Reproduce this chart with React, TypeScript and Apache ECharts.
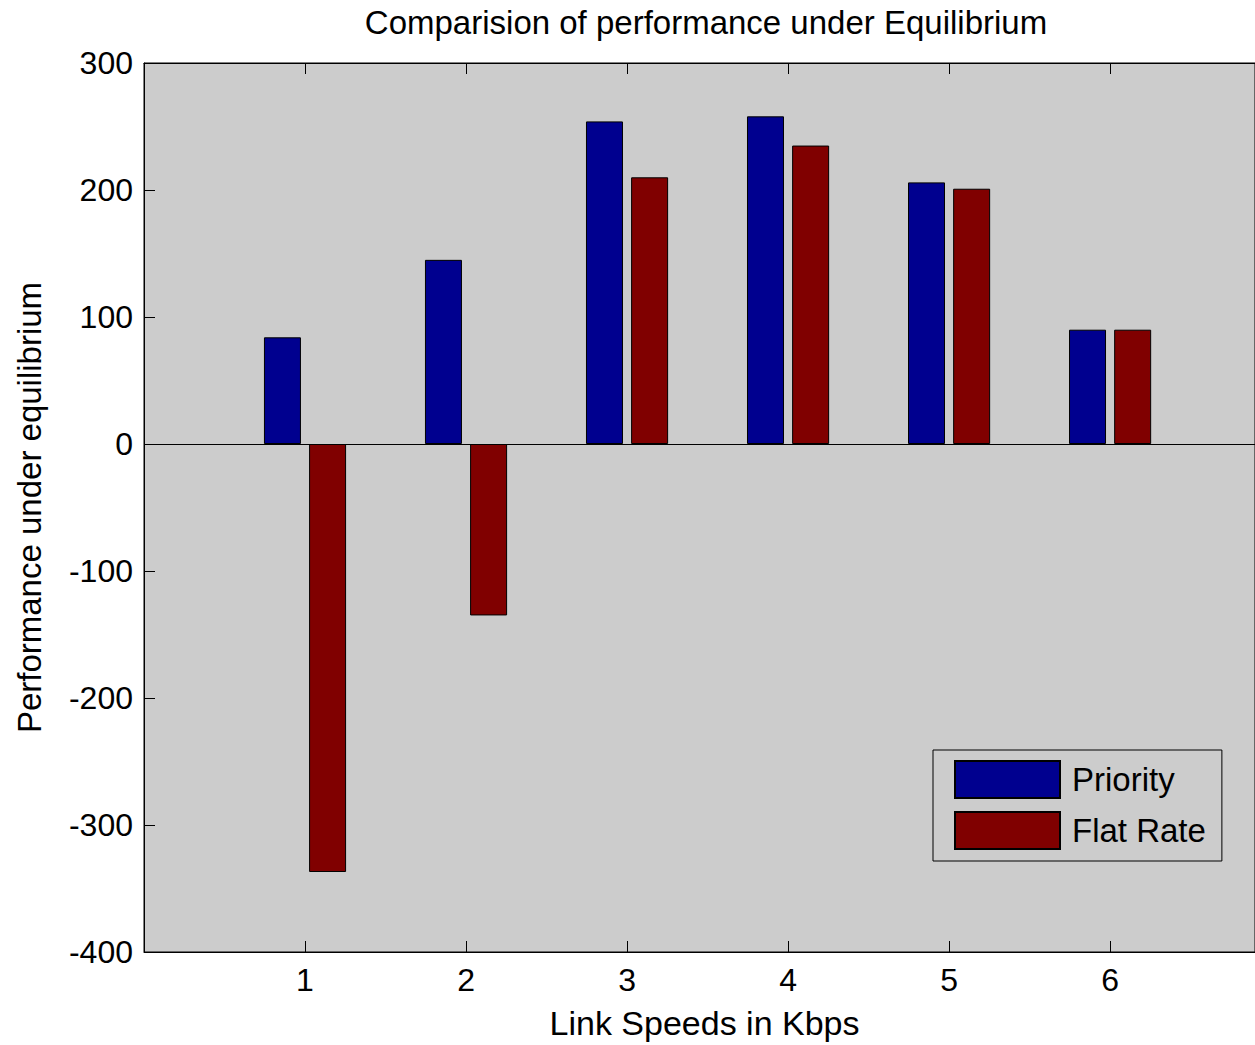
import React, { useEffect, useRef } from "react";
import * as echarts from "echarts";

const categories = [1, 2, 3, 4, 5, 6];
const priority = [84, 145, 254, 258, 206, 90];
const flatRate = [-337, -135, 210, 235, 201, 90];
const seriesNames = ["Priority", "Flat Rate"];
const titleText = "Comparision of performance under Equilibrium";
const xName = "Link Speeds in Kbps";
const yName = "Performance under equilibrium";

const FONT = "'Liberation Sans', Arial, Helvetica, sans-serif";

export default function App() {
  const ref = useRef<HTMLDivElement>(null);
  useEffect(() => {
    if (!ref.current) return;
    const chart = echarts.init(ref.current, null, { renderer: "svg" });
    const tickLabelFmt = (v: number) =>
      Number.isInteger(v) && v >= 1 && v <= 6 ? String(v) : "";
    const xBase = {
      type: "value" as const,
      min: 0,
      max: 6.9,
      interval: 1,
      axisLine: { show: true, onZero: false, lineStyle: { color: "#000", width: 1 } },
      axisTick: { show: true, inside: true, length: 11, lineStyle: { color: "#000", width: 1 } },
      splitLine: { show: false },
    };
    chart.setOption({
      animation: false,
      backgroundColor: "#ffffff",
      textStyle: { fontFamily: FONT },
      title: {
        text: titleText,
        left: 701,
        top: 1,
        textAlign: "center",
        textStyle: { fontFamily: FONT, fontSize: 33, fontWeight: "normal", color: "#000" },
      },
      grid: {
        left: 144,
        top: 63,
        width: 1111,
        height: 889,
        show: true,
        backgroundColor: "#cccccc",
        borderColor: "#000",
        borderWidth: 1,
      },
      legend: {
        data: seriesNames,
        orient: "vertical",
        left: 933,
        top: 750,
        padding: [10, 16, 11, 21],
        itemWidth: 105,
        itemHeight: 37,
        itemGap: 12,
        icon: "rect",
        backgroundColor: "#cccccc",
        borderColor: "#000",
        borderWidth: 1,
        textStyle: { fontFamily: FONT, fontSize: 33, color: "#000", padding: [0, 0, 0, 7] },
      },
      xAxis: [
        {
          ...xBase,
          position: "bottom",
          name: xName,
          nameLocation: "middle",
          nameGap: 54,
          nameTextStyle: { fontFamily: FONT, fontSize: 34, color: "#000", padding: [0, 0, 0, 10] },
          axisLabel: {
            show: true,
            formatter: tickLabelFmt,
            fontFamily: FONT,
            fontSize: 32,
            color: "#000",
            margin: 12,
            showMaxLabel: false,
          },
        },
        {
          ...xBase,
          position: "top",
          axisLabel: { show: false },
        },
      ],
      yAxis: {
        type: "value",
        min: -400,
        max: 300,
        interval: 100,
        name: yName,
        nameLocation: "middle",
        nameGap: 98,
        nameTextStyle: { fontFamily: FONT, fontSize: 33, color: "#000" },
        axisLine: { show: true, lineStyle: { color: "#000", width: 1 } },
        axisTick: { show: true, inside: true, length: 11, lineStyle: { color: "#000" } },
        axisLabel: { fontFamily: FONT, fontSize: 32, color: "#000", margin: 11 },
        splitLine: { show: false },
      },
      series: [
        {
          name: seriesNames[0],
          type: "bar",
          xAxisIndex: 0,
          barWidth: 37,
          barGap: "22%",
          itemStyle: { color: "#00008f", borderColor: "#000", borderWidth: 1 },
          data: categories.map((c, i) => [c, priority[i]]),
        },
        {
          name: seriesNames[1],
          type: "bar",
          xAxisIndex: 0,
          barWidth: 37,
          barGap: "22%",
          itemStyle: { color: "#800000", borderColor: "#000", borderWidth: 1 },
          data: categories.map((c, i) => [c, flatRate[i]]),
          markLine: {
            silent: true,
            symbol: ["none", "none"],
            label: { show: false },
            lineStyle: { color: "#000", width: 1, type: "solid" },
            data: [{ yAxis: 0 }],
          },
        },
      ],
    });
    return () => chart.dispose();
  }, []);
  return (
    <div
      ref={ref}
      style={{ position: "absolute", left: 0, top: 0, width: 1255, height: 1045 }}
    />
  );
}
